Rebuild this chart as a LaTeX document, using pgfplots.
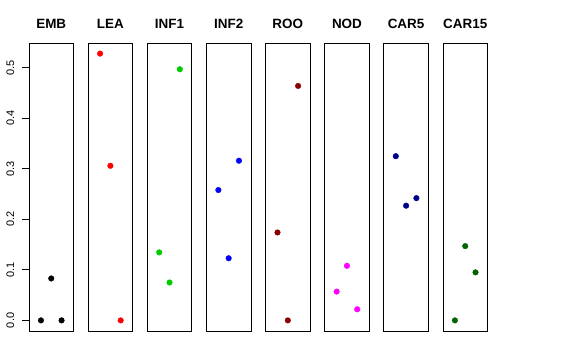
\documentclass[border=0pt]{standalone}
\usepackage{pgfplots}
\pgfplotsset{compat=1.18}
\usepackage{fontspec}
\setmainfont{Liberation Sans}
\definecolor{rgreen}{HTML}{00CD00}
\definecolor{rdarkred}{HTML}{8B0000}
\definecolor{rnavy}{HTML}{00008B}
\definecolor{rdarkgreen}{HTML}{006400}
\definecolor{rmagenta}{HTML}{FF00FF}
\definecolor{rred}{HTML}{FF0000}
\definecolor{rblue}{HTML}{0000FF}
\pgfplotsset{
  panel/.style={
    anchor=south west, width=44.5bp, height=288bp, scale only axis,
    xmin=-0.16, xmax=4.16, ymin=-0.021, ymax=0.549,
    xtick=\empty, ytick=\empty,
    axis line style={black, line width=0.75bp},
    title style={at={(0.5,1)}, anchor=base, yshift=9bp, inner sep=0pt,
      font=\fontsize{13.5}{16}\selectfont\bfseries},
    clip=false,
  },
  pts/.style={only marks, mark=*, mark size=2.8bp, color=#1, mark options={fill=#1, draw=#1}},
}
\begin{document}
\begin{tikzpicture}
\path[use as bounding box] (0,0) rectangle (576bp,360bp);
\begin{axis}[panel, at={(29bp,29bp)}, title={EMB},
  ytick={0,0.1,0.2,0.3,0.4,0.5}, ytick pos=left,
  yticklabel style={rotate=90, anchor=south, inner sep=0pt, outer sep=0pt,
    font=\fontsize{11}{13}\selectfont},
  /pgf/number format/assume math mode=true,
  /pgf/number format/.cd, fixed, fixed zerofill, precision=1, /pgfplots/.cd,
  tick align=outside, major tick length=7.2bp, tick style={black, line width=0.75bp},
  yticklabel shift=7.5bp]
\addplot[pts=black] coordinates {(1,0) (2,0.083) (3,0)};
\end{axis}
\begin{axis}[panel, at={(88.14bp,29bp)}, title={LEA}]
\addplot[pts=rred] coordinates {(1,0.528) (2,0.306) (3,0)};
\end{axis}
\begin{axis}[panel, at={(147.28bp,29bp)}, title={INF1}]
\addplot[pts=rgreen] coordinates {(1,0.1346) (2,0.075) (3,0.497)};
\end{axis}
\begin{axis}[panel, at={(206.42bp,29bp)}, title={INF2}]
\addplot[pts=rblue] coordinates {(1,0.258) (2,0.123) (3,0.316)};
\end{axis}
\begin{axis}[panel, at={(265.56bp,29bp)}, title={ROO}]
\addplot[pts=rdarkred] coordinates {(1,0.174) (2,0) (3,0.464)};
\end{axis}
\begin{axis}[panel, at={(324.7bp,29bp)}, title={NOD}]
\addplot[pts=rmagenta] coordinates {(1,0.057) (2,0.108) (3,0.022)};
\end{axis}
\begin{axis}[panel, at={(383.84bp,29bp)}, title={CAR5}]
\addplot[pts=rnavy] coordinates {(1,0.325) (2,0.227) (3,0.242)};
\end{axis}
\begin{axis}[panel, at={(442.98bp,29bp)}, title={CAR15}]
\addplot[pts=rdarkgreen] coordinates {(1,0) (2,0.147) (3,0.095)};
\end{axis}
\end{tikzpicture}
\end{document}
